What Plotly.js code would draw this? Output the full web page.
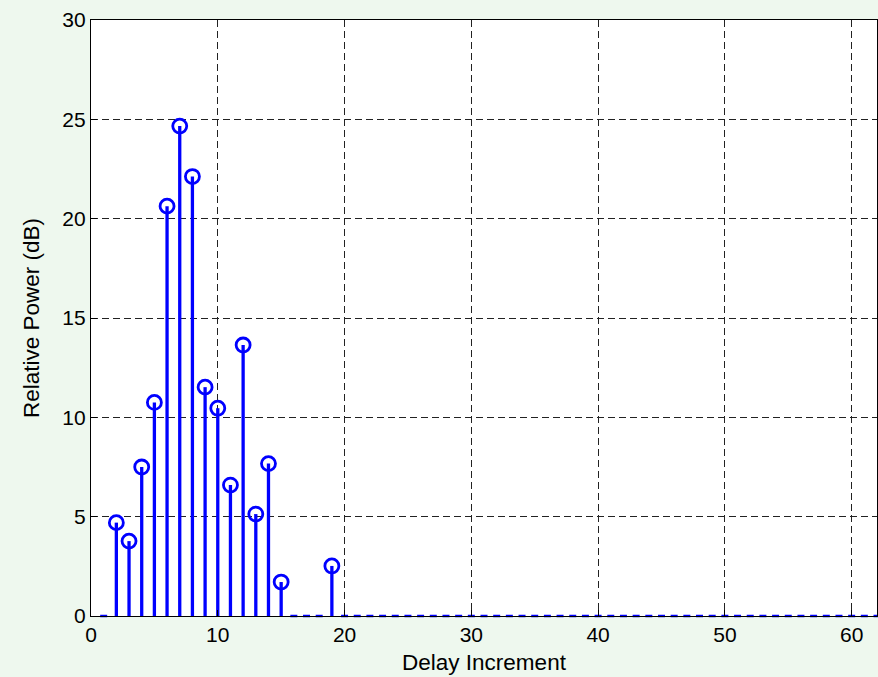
<!DOCTYPE html>
<html>
<head>
<meta charset="utf-8">
<script src="https://cdn.plot.ly/plotly-3.0.1.min.js"></script>
<style>html,body{margin:0;padding:0;background:#eef8ee;}#chart{width:878px;height:677px;}</style>
</head>
<body>
<div id="chart"></div>
<script>
// Delay increments 1..62 and relative power (dB); zero where no path
const delays = [];
for (let i = 1; i <= 62; i++) delays.push(i);
const nonzeroDelays = [2, 3, 4, 5, 6, 7, 8, 9, 10, 11, 12, 13, 14, 15, 19];
const nonzeroPower = [4.7, 3.77, 7.5, 10.75, 20.63, 24.66, 22.12, 11.52, 10.46, 6.59, 13.64, 5.13, 7.67, 1.71, 2.52];
const xTicks = [0, 10, 20, 30, 40, 50, 60];
const yTicks = [0, 5, 10, 15, 20, 25, 30];

const power = delays.map(d => {
  const k = nonzeroDelays.indexOf(d);
  return k >= 0 ? nonzeroPower[k] : 0;
});

// stems
const sx = [], sy = [];
delays.forEach((d, i) => {
  if (power[i] !== 0) { sx.push(d, d, null); sy.push(0, power[i], null); }
});
const zx = delays.filter((d, i) => power[i] === 0);
const zy = zx.map(() => 0);

const blue = '#0000ff';
const font = 'Liberation Sans, Arial, sans-serif';
const traces = [
  {x: sx, y: sy, mode: 'lines', line: {color: blue, width: 3.3}, hoverinfo: 'skip', cliponaxis: false},
  {x: nonzeroDelays, y: nonzeroPower, mode: 'markers',
   marker: {symbol: 'circle-open', size: 14, color: blue, line: {width: 2.8, color: blue}}},
  {x: zx, y: zy, mode: 'markers', cliponaxis: false,
   marker: {symbol: 'line-ew', size: 5, color: blue, line: {width: 2.5, color: blue}}}
];

const axisCommon = {
  showline: true, mirror: true, linecolor: '#000', linewidth: 1.2,
  showgrid: true, gridcolor: '#222', gridwidth: 1, griddash: '7px,4px',
  zeroline: false, ticks: 'inside', ticklen: 6, tickcolor: '#000',
  tickfont: {family: font, size: 21, color: '#000'}
};

const layout = {
  width: 878, height: 677,
  paper_bgcolor: '#eef8ee', plot_bgcolor: '#ffffff',
  margin: {l: 91, r: 1, t: 20, b: 61},
  showlegend: false,
  xaxis: Object.assign({}, axisCommon, {
    range: [0, 62], tickvals: xTicks, ticktext: xTicks.map(String),
    title: {text: 'Delay Increment', standoff: 8,
      font: {family: font, size: 22.5, color: '#000'}}
  }),
  yaxis: Object.assign({}, axisCommon, {
    range: [0, 30], tickvals: yTicks, ticktext: yTicks.map(String),
    title: {text: 'Relative Power (dB)', standoff: 16,
      font: {family: font, size: 22.5, color: '#000'}}
  })
};

Plotly.newPlot('chart', traces, layout, {displayModeBar: false, staticPlot: true});
</script>
</body>
</html>
